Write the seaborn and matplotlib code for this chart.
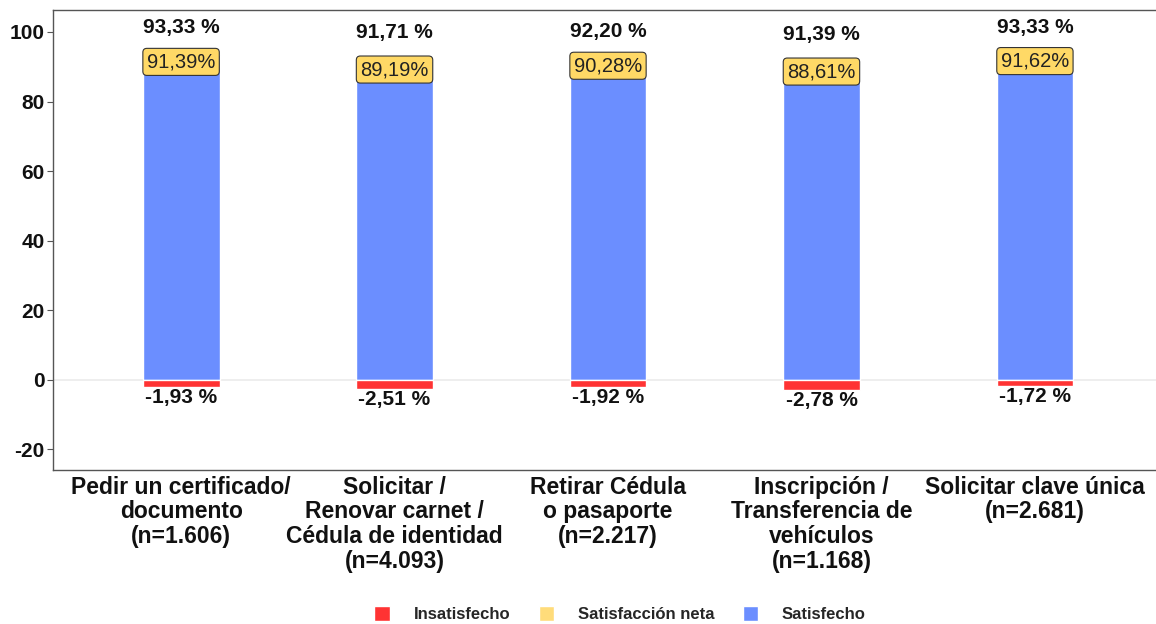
import pandas as pd
import numpy as np
import matplotlib
matplotlib.use("Agg")
import matplotlib.pyplot as plt
from matplotlib.patches import Patch
import seaborn as sns

# data
categories = [
    "Pedir un certificado/\ndocumento\n(n=1.606)",
    "Solicitar /\nRenovar carnet /\nCédula de identidad\n(n=4.093)",
    "Retirar Cédula\no pasaporte\n(n=2.217)",
    "Inscripción /\nTransferencia de\nvehículos\n(n=1.168)",
    "Solicitar clave única\n(n=2.681)",
]
satisfecho = [93.33, 91.71, 92.20, 91.39, 93.33]
insatisfecho = [-1.93, -2.51, -1.92, -2.78, -1.72]
neta = [91.39, 89.19, 90.28, 88.61, 91.62]

BLUE = "#6B8EFF"
RED = "#FF3333"
YELLOW = "#FFD966"
LEG_YELLOW = "#FFDC7A"

sns.set_theme(style="white")
plt.rcParams["font.family"] = ["Liberation Sans", "DejaVu Sans"]
plt.rcParams["axes.unicode_minus"] = False

df = pd.DataFrame({
    "cat": categories * 2,
    "valor": satisfecho + insatisfecho,
    "tipo": ["Satisfecho"] * 5 + ["Insatisfecho"] * 5,
})

fig = plt.figure(figsize=(11.56, 6.24), dpi=100)
ax = fig.add_axes([53 / 1156, 154 / 624, 1110 / 1156, 460 / 624])

sns.barplot(data=df, x="cat", y="valor", hue="tipo", dodge=False,
            palette={"Satisfecho": BLUE, "Insatisfecho": RED},
            width=0.36, saturation=1, legend=False, ax=ax)

ax.axhline(0, color="#EBEBEB", lw=1.2, zorder=0)

def fmt(v):
    return f"{v:.2f}".replace(".", ",")

for i in range(len(categories)):
    ax.text(i, satisfecho[i] + 8, fmt(satisfecho[i]) + " %", ha="center", va="center",
            fontsize=15, fontweight="bold", color="#111111")
    ax.text(i, insatisfecho[i] - 3.2, fmt(insatisfecho[i]) + " %", ha="center", va="center",
            fontsize=15, fontweight="bold", color="#111111")
    ax.text(i, neta[i], fmt(neta[i]) + "%", ha="center", va="center",
            fontsize=14.5, color="#222222", zorder=5,
            bbox=dict(boxstyle="round,pad=0.2,rounding_size=0.2", fc=YELLOW,
                      ec="#333333", lw=0.8))

ax.set_xlim(-0.6, 4.6)
ax.set_ylim(-25.9, 106.3)
ax.set_yticks([-20, 0, 20, 40, 60, 80, 100])
ax.set_xlabel("")
ax.set_ylabel("")
ax.tick_params(axis="y", labelsize=15, length=4, width=0.8, color="#555555", left=True, pad=2)
ax.tick_params(axis="x", labelsize=16.5, length=0, pad=4)
for lbl in ax.get_yticklabels() + ax.get_xticklabels():
    lbl.set_fontweight("bold")
    lbl.set_color("#111111")
for lbl in ax.get_xticklabels():
    lbl.set_linespacing(1.1)

for s in ["top", "left", "bottom"]:
    ax.spines[s].set_color("#555555")
    ax.spines[s].set_linewidth(1.0)
ax.spines["right"].set_visible(False)

handles = [Patch(facecolor=RED, label="Insatisfecho"),
           Patch(facecolor=LEG_YELLOW, label="Satisfacción neta"),
           Patch(facecolor=BLUE, label="Satisfecho")]
fig.legend(handles=handles, loc="center", bbox_to_anchor=(620 / 1156, 1 - 614 / 624),
           ncol=3, frameon=False, prop={"weight": "bold", "size": 12},
           handlelength=0.95, handleheight=1.0, columnspacing=1.7, handletextpad=1.4)

fig.savefig("out.png", dpi=100)
